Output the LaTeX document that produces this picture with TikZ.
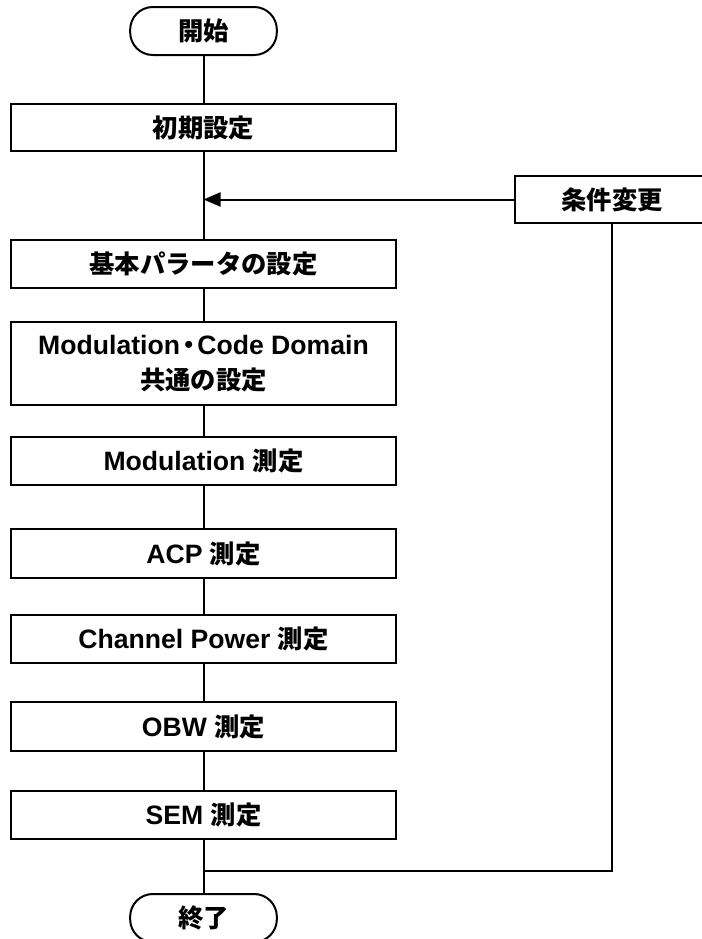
\documentclass[tikz,border=0pt]{standalone}
\usepackage{fontspec}
\setmainfont{Liberation Sans}[Scale=1.05]
\newfontfamily\jpfont{Noto Sans CJK JP}
\newcommand{\jtxt}[1]{{\jpfont #1}}
\newcommand{\jdot}{{\jpfont\kern-3pt ・\kern-3pt}}
\usetikzlibrary{arrows.meta}

\begin{document}
\begin{tikzpicture}[x=0.75pt, y=-0.75pt,
    procbox/.style={draw, line width=1.5pt, minimum width=288.75pt, align=center,
      font=\fontsize{19}{26}\selectfont\bfseries},
    termbox/.style={draw, line width=1.5pt, minimum width=110pt, minimum height=36pt,
      rounded corners=17pt, font=\fontsize{19}{26}\selectfont\bfseries},
    flow/.style={line width=1.5pt}]
  \useasboundingbox (0,0) rectangle (702,939);

  % start / end
  \node[termbox] (start) at (203.5,31) {\jtxt{開始}};
  \node[termbox] (stop) at (203.5,918) {\jtxt{終了}};

  % process boxes
  \node[procbox, minimum height=35.5pt] (init) at (203.5,127.5) {\jtxt{初期設定}};
  \node[procbox, minimum height=36pt] (basic) at (203.5,264) {\jtxt{基本パラータの設定}};
  \node[procbox, minimum height=62pt] (common) at (203.5,363.5)
    {Modulation\jdot Code Domain\\\jtxt{共通の設定}};
  \node[procbox, minimum height=36pt] (mod) at (203.5,461) {Modulation \jtxt{測定}};
  \node[procbox, minimum height=36.5pt] (acp) at (203.5,553.5) {ACP \jtxt{測定}};
  \node[procbox, minimum height=36pt] (chpow) at (203.5,639) {Channel Power \jtxt{測定}};
  \node[procbox, minimum height=36.5pt] (obw) at (203.5,726.5) {OBW \jtxt{測定}};
  \node[procbox, minimum height=36pt] (sem) at (203.5,815) {SEM \jtxt{測定}};

  % condition change
  \node[procbox, minimum width=146pt, minimum height=35.5pt] (change) at (612,199.5) {\jtxt{条件変更}};

  \coordinate (join) at (203.5,199.5);
  \coordinate (back) at (203.5,871);

  % main flow
  \draw[flow] (start) -- (init);
  \draw[flow] (init) -- (basic);
  \draw[flow] (basic) -- (common);
  \draw[flow] (common) -- (mod);
  \draw[flow] (mod) -- (acp);
  \draw[flow] (acp) -- (chpow);
  \draw[flow] (chpow) -- (obw);
  \draw[flow] (obw) -- (sem);
  \draw[flow] (sem) -- (stop);

  % loop back
  \draw[flow] (change.south) |- (back);
  \draw[flow, -{Triangle[length=12.75pt, width=10.5pt]}] (change.west) -- (join);
\end{tikzpicture}
\end{document}
